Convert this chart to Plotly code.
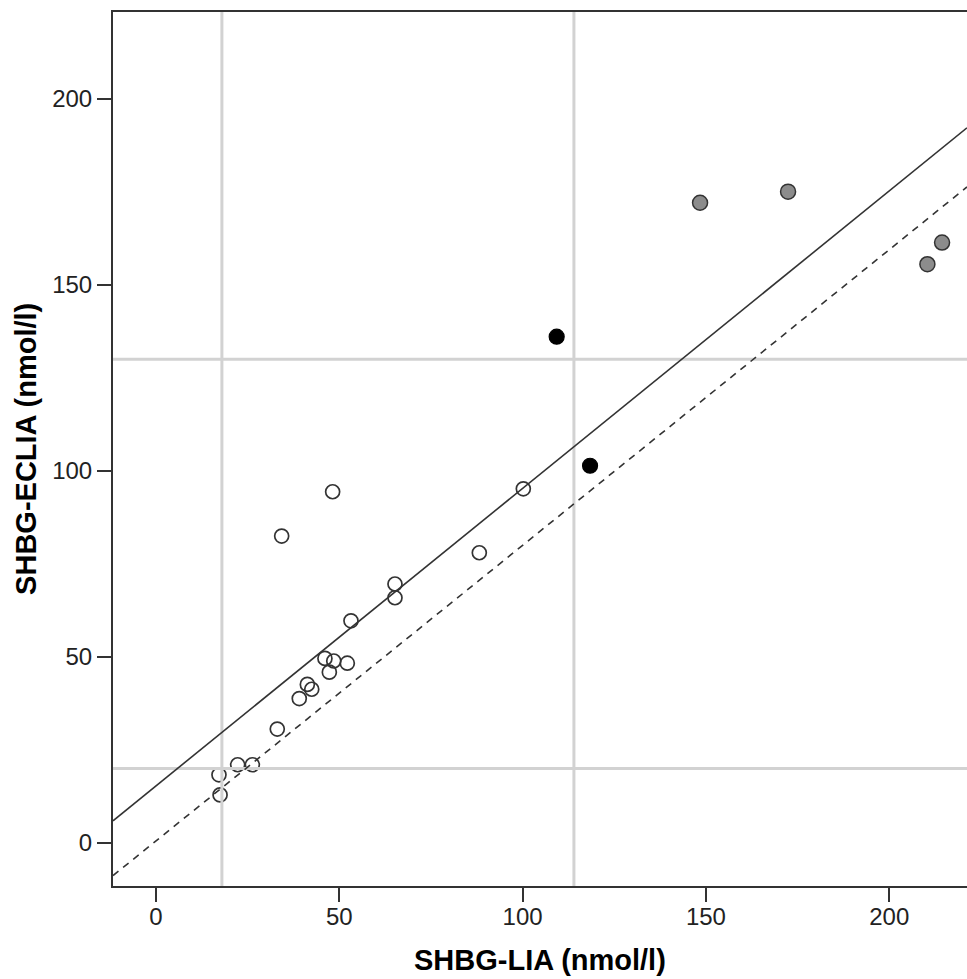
import plotly.graph_objects as go

# ---- Data ----
lia_open = [17.2, 17.5, 22.3, 26.3, 33.1, 34.3, 39.1, 41.3, 42.5, 46.1, 47.3,
            48.5, 48.2, 52.2, 53.2, 65.2, 65.2, 88.2, 100.2]
eclia_open = [18.3, 12.9, 21.0, 21.0, 30.6, 82.5, 38.8, 42.6, 41.3, 49.6, 45.9,
              48.9, 94.4, 48.3, 59.7, 69.6, 65.9, 78.0, 95.2]
lia_black = [109.3, 118.4]
eclia_black = [136.1, 101.4]
lia_gray = [148.4, 172.4, 210.4, 214.4]
eclia_gray = [172.1, 175.1, 155.6, 161.4]

ref_lia = [18, 114]      # vertical reference lines (LIA)
ref_eclia = [20, 130]    # horizontal reference lines (ECLIA)

fit_solid = (15.3, 0.800)    # intercept, slope
fit_dashed = (0.5, 0.795)    # intercept, slope

x_ticks = [0, 50, 100, 150, 200]
y_ticks = [0, 50, 100, 150, 200]
x_range = [-11.7, 221.2]
y_range = [-11.6, 223.4]

x_title = "SHBG-LIA (nmol/l)"
y_title = "SHBG-ECLIA (nmol/l)"

FONT = "Liberation Sans, Arial, sans-serif"
DARK = "#333333"

fig = go.Figure()

# points
fig.add_trace(go.Scatter(x=lia_open, y=eclia_open, mode="markers",
                         marker=dict(symbol="circle-open", size=14, color=DARK,
                                     line=dict(width=1.7, color=DARK)),
                         showlegend=False))
fig.add_trace(go.Scatter(x=lia_black, y=eclia_black, mode="markers",
                         marker=dict(symbol="circle", size=15, color="#000000",
                                     line=dict(width=1.2, color="#000000")),
                         showlegend=False))
fig.add_trace(go.Scatter(x=lia_gray, y=eclia_gray, mode="markers",
                         marker=dict(symbol="circle", size=15, color="#8c8c8c",
                                     line=dict(width=1.5, color=DARK)),
                         showlegend=False))

# reference lines (drawn above the points)
for xv in ref_lia:
    fig.add_trace(go.Scatter(x=[xv, xv], y=y_range, mode="lines",
                             line=dict(color="#d2d2d2", width=3),
                             showlegend=False, hoverinfo="skip"))
for yv in ref_eclia:
    fig.add_trace(go.Scatter(x=x_range, y=[yv, yv], mode="lines",
                             line=dict(color="#d2d2d2", width=3),
                             showlegend=False, hoverinfo="skip"))

# fit lines
for (a, b), dash in [(fit_solid, "solid"), (fit_dashed, "7px,6px")]:
    fig.add_trace(go.Scatter(x=x_range, y=[a + b * x for x in x_range], mode="lines",
                             line=dict(color=DARK, width=1.6, dash=dash),
                             showlegend=False, hoverinfo="skip"))

axis_common = dict(
    showgrid=False, zeroline=False, showline=True, linecolor=DARK, linewidth=2,
    ticks="outside", ticklen=14, tickwidth=2, tickcolor=DARK,
    tickfont=dict(family=FONT, size=24, color="#222222"),
)

fig.update_layout(
    width=967, height=979,
    margin=dict(l=113, r=0, t=12, b=93),
    paper_bgcolor="white", plot_bgcolor="white",
    xaxis=dict(range=x_range, tickvals=x_ticks, mirror=True,
               ticklabelstandoff=-6, **axis_common),
    yaxis=dict(range=y_range, tickvals=y_ticks, mirror=False, **axis_common),
    annotations=[
        dict(text=f"<b>{x_title}</b>", xref="paper", yref="paper", x=0.5, y=-0.085,
             xanchor="center", yanchor="middle", showarrow=False,
             font=dict(family=FONT, size=29, color="#000000")),
        dict(text=f"<b>{y_title}</b>", xref="paper", yref="paper", x=-0.102, y=0.5,
             xanchor="center", yanchor="middle", showarrow=False, textangle=-90,
             font=dict(family=FONT, size=29, color="#000000")),
    ],
)

fig.write_html(
    "out.html",
    config={"displayModeBar": False},
    post_script="document.body.style.margin='0';document.body.style.overflow='hidden';"
                "document.documentElement.style.overflow='hidden';",
)
